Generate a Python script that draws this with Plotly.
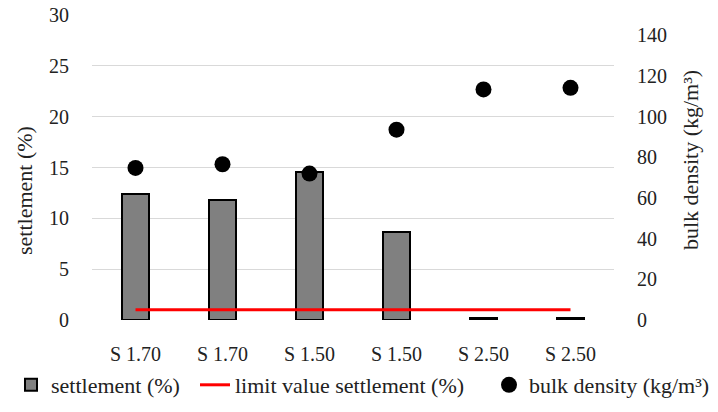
import plotly.graph_objects as go

categories = ["S 1.70", "S 1.70", "S 1.50", "S 1.50", "S 2.50", "S 2.50"]
settlement = [12.4, 11.8, 14.55, 8.65, 0.2, 0.2]
limit_value = [1.0, 1.0, 1.0, 1.0, 1.0, 1.0]
bulk_density = [74.8, 76.6, 72.0, 93.6, 113.4, 114.2]

xpos = list(range(len(categories)))
FONT = "Liberation Serif"
TXT = 22
TICK = 20
W, H = 718, 412
L, R, T, B = 92, 104, 15, 92
PW = W - L - R
PH = H - T - B

fig = go.Figure()
fig.add_trace(go.Bar(
    x=xpos, y=settlement, name="settlement (%)",
    marker=dict(color="#808080", line=dict(color="black", width=2)),
    width=0.32, legend="legend",
))
fig.add_trace(go.Scatter(
    x=xpos, y=limit_value, name="limit value settlement (%)",
    mode="lines", line=dict(color="#ff0000", width=3), legend="legend2",
))
fig.add_trace(go.Scatter(
    x=xpos, y=bulk_density, name="bulk density (kg/m³)",
    mode="markers", marker=dict(color="black", size=16),
    yaxis="y2", legend="legend3",
))

def leg(px):
    return dict(xref="container", yref="container", x=px / W, xanchor="left",
                y=1 - 385 / H, yanchor="middle",
                font=dict(size=TXT, color="#222222"),
                bgcolor="rgba(0,0,0,0)")

def title_ann(text, px, py):
    return dict(text=text, xref="paper", yref="paper",
                x=(px - L) / PW, y=1 - (py - T) / PH,
                xanchor="center", yanchor="middle", textangle=-90,
                showarrow=False, font=dict(size=TXT, color="#222222"))

fig.update_layout(
    width=W, height=H,
    margin=dict(l=L, r=R, t=T, b=B, autoexpand=False),
    plot_bgcolor="white", paper_bgcolor="white",
    font=dict(family=FONT, size=TICK, color="#222222"),
    showlegend=True,
    legend=leg(11),
    legend2=leg(195),
    legend3=leg(489),
    bargap=0,
    annotations=[
        title_ann("settlement (%)", 24, 191),
        title_ann("bulk density (kg/m³)", 690, 160),
    ],
    xaxis=dict(
        range=[-0.5, 5.5], tickvals=xpos, ticktext=categories,
        showgrid=False, zeroline=False, showline=False, ticks="",
        tickfont=dict(size=TICK), ticklabelstandoff=20,
    ),
    yaxis=dict(
        range=[0, 30], dtick=5, showgrid=True, gridcolor="#d9d9d9", gridwidth=1,
        zeroline=False, showline=False, ticks="", ticklabelstandoff=22,
        tickfont=dict(size=TICK),
    ),
    yaxis2=dict(
        range=[0, 150], tickvals=[0, 20, 40, 60, 80, 100, 120, 140],
        overlaying="y", side="right", showgrid=False, zeroline=False,
        showline=False, ticks="", ticklabelstandoff=22,
        tickfont=dict(size=TICK),
    ),
)

fig.write_html("out.html")
